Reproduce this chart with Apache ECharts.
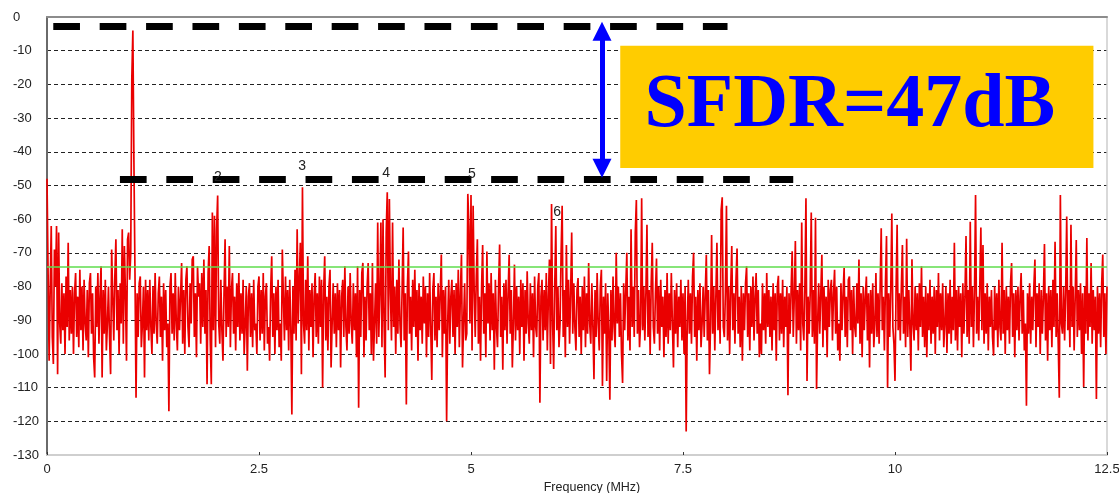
<!DOCTYPE html>
<html>
<head>
<meta charset="utf-8">
<script src="https://cdn.jsdelivr.net/npm/echarts@6/dist/echarts.min.js"></script>
<style>
html,body{margin:0;padding:0;background:#ffffff;}
#chart{width:1119px;height:493px;}
</style>
</head>
<body>
<div id="chart"></div>
<script>
// ---- data ----
const freqStepMHz = 0.0125;           // spacing of the spectrum bins
// spectrum level (dB) per bin, one array per MHz
const mhz00 = [-48,-75,-102,-81,-62,-95,-103,-69,-80,-62,
-106,-64,-91,-97,-79,-93,-82,-100,-77,-92,
-67,-96,-81,-94,-80,-100,-82,-76,-95,-83,
-98,-75,-93,-80,-99,-78,-91,-96,-81,-101,
-79,-76,-94,-82,-101,-107,-80,-92,-76,-97,
-83,-74,-107,-81,-94,-78,-99,-91,-80,-95,
-106,-69,-83,-96,-77,-66,-93,-81,-100,-79,
-91,-63,-97,-68,-82,-102,-66,-64,-78,-70];
const mhz01 = [-18.5,-4,-43,-76,-113,-82,-95,-79,-77,-98,
-91,-80,-107,-78,-93,-81,-96,-78,-92,-100,
-80,-94,-76,-91,-97,-82,-77,-95,-83,-102,
-79,-93,-81,-98,-91,-117,-80,-76,-94,-82,
-96,-76,-91,-99,-80,-93,-83,-73,-97,-81,
-100,-78,-74,-92,-98,-79,-91,-72,-71,-95,
-82,-101,-74,-83,-79,-97,-76,-92,-72,-94,
-81,-109,-76,-68,-96,-109,-58,-93,-59,-98];
const mhz02 = [-63,-53,-91,-97,-78,-93,-102,-82,-66,-95,
-80,-92,-68,-98,-81,-76,-94,-83,-99,-79,
-92,-76,-96,-82,-94,-78,-100,-91,-80,-105,
-83,-79,-95,-82,-98,-78,-93,-91,-100,-80,
-77,-96,-81,-94,-76,-99,-83,-79,-97,-92,
-102,-81,-71,-95,-82,-100,-80,-93,-78,-98,
-91,-102,-69,-83,-96,-77,-93,-81,-99,-78,
-92,-118,-80,-94,-75,-96,-63,-91,-78,-67];
const mhz03 = [-106,-50.5,-91,-97,-78,-93,-71,-99,-81,-92,
-79,-101,-83,-76,-95,-82,-97,-77,-92,-78,
-110,-81,-71,-96,-83,-99,-80,-75,-104,-91,
-79,-94,-82,-98,-79,-93,-81,-104,-83,-78,
-95,-74,-92,-99,-80,-94,-76,-91,-97,-79,
-93,-82,-101,-74,-116,-81,-95,-76,-73,-101,
-83,-96,-80,-73,-93,-82,-100,-73,-102,-91,
-79,-97,-61,-95,-82,-61,-98,-60,-91,-107];
const mhz04 = [-64,-52,-93,-54,-82,-96,-61,-92,-80,-100,
-78,-94,-72,-91,-98,-81,-62.5,-96,-82,-115,
-80,-69.6,-94,-83,-99,-78,-92,-75,-95,-81,
-102,-79,-93,-83,-97,-77,-91,-80,-101,-82,
-95,-76,-92,-107.7,-81,-76,-96,-83,-98,-79,
-93,-82,-70.5,-101,-81,-94,-80,-120,-91,-78,
-97,-83,-78,-95,-81,-100,-79,-92,-75,-98,
-82,-70.5,-104,-91,-79,-96,-94,-52.5,-62,-91];
const mhz05 = [-52.8,-99,-56,-81,-95,-77,-66,-97,-83,-102,
-80,-67.7,-94,-82,-101,-69.6,-91,-79,-96,-76,
-93,-82,-104.7,-78,-92,-98,-80,-67.5,-95,-83,
-104.7,-79,-93,-78,-97,-82,-70.6,-94,-81,-104,
-91,-73.5,-96,-80,-93,-83,-100,-78,-92,-79,
-102,-81,-94,-75.5,-91,-97,-79,-93,-82,-101,
-77,-92,-95,-80,-76,-114.5,-83,-78,-96,-81,
-93,-76,-99,-83,-72,-103,-55.5,-91,-104.5,-80];
const mhz06 = [-62,-93,-80,-98,-91,-70,-56,-95,-81,-101,
-67.7,-92,-78,-97,-82,-64,-94,-79,-92,-99,
-81,-77.5,-95,-83,-100,-80,-93,-77,-98,-82,
-94,-73,-91,-97,-79,-92,-107.5,-81,-95,-76,
-91,-99,-80,-75,-109.5,-83,-94,-79,-108,-82,
-93,-113.6,-81,-96,-77,-92,-98,-70,-91,-80,
-95,-82,-100,-108.6,-79,-93,-81,-70,-96,-83,
-99,-63,-92,-80,-95,-64,-54.3,-94,-81,-98];
const mhz07 = [-91,-53.8,-93,-80,-96,-82,-61.7,-95,-81,-100,
-79,-67,-92,-97,-82,-71.7,-94,-80,-99,-78,
-92,-83,-101,-81,-95,-76,-97,-82,-93,-76,
-91,-104,-81,-94,-79,-98,-83,-92,-78,-96,
-82,-100,-80,-123,-91,-78,-94,-82,-97,-77,
-70,-95,-83,-102,-81,-93,-79,-98,-91,-80,
-95,-82,-70.6,-96,-81,-106,-91,-64.7,-94,-80,
-99,-83,-67,-93,-81,-97,-57.3,-53.5,-92,-95];
const mhz08 = [-82,-56,-96,-80,-100,-81,-68,-93,-82,-97,
-78,-68.7,-94,-83,-98,-80,-102,-82,-93,-79,
-74,-95,-82,-99,-80,-92,-77,-96,-83,-76,
-94,-81,-101,-91,-100,-79,-93,-82,-97,-76,
-92,-81,-95,-83,-99,-79,-93,-82,-102,-80,
-76.8,-96,-82,-94,-78,-98,-83,-92,-80,-112.3,
-82,-94,-81,-69.5,-95,-83,-66.5,-97,-81,-93,
-79,-99,-61,-91,-96,-80,-53.8,-108,-83,-94];
const mhz09 = [-82,-58,-95,-81,-97,-59.6,-110.4,-91,-79,-94,
-82,-70.6,-98,-80,-93,-83,-101,-78,-92,-81,
-78,-96,-82,-75,-94,-80,-99,-91,-102,-79,
-93,-82,-74.5,-95,-83,-98,-78,-77,-93,-81,
-100,-80,-92,-95,-79,-91,-72,-97,-82,-101,
-80,-93,-83,-77,-96,-82,-104,-81,-94,-79,
-98,-91,-76,-95,-82,-97,-80,-62.7,-93,-83,
-99,-79,-65,-110,-82,-95,-81,-58.3,-92,-97];
const mhz10 = [-108,-81,-61.7,-93,-82,-96,-80,-67.7,-94,-83,
-98,-65.8,-95,-81,-92,-105,-71.9,-91,-96,-80,
-93,-82,-99,-79,-92,-74,-95,-83,-98,-80,
-101,-82,-93,-78,-97,-83,-94,-80,-100,-81,
-92,-76,-96,-82,-93,-79,-98,-91,-80,-99.7,
-82,-94,-78,-97,-83,-93,-67,-96,-81,-99,
-80,-92,-82,-101,-79,-94,-83,-65,-95,-81,
-97,-60.8,-92,-80,-98,-82,-52.8,-94,-83,-96];
const mhz11 = [-80,-62.5,-93,-67.7,-97,-82,-94,-79,-99,-83,
-92,-81,-95,-100.5,-80,-93,-82,-98,-78,-92,
-96,-67,-94,-81,-100,-80,-93,-83,-97,-79,
-73,-95,-82,-101,-81,-93,-80,-96,-83,-76,
-94,-81,-99,-91,-115.4,-82,-94,-79,-97,-83,
-93,-80,-72,-98,-82,-92,-79,-100,-81,-94,
-83,-67.4,-96,-82,-102,-80,-93,-81,-98,-78,
-92,-66.7,-95,-82,-97,-113,-52.8,-91,-94,-80];
const mhz12 = [-96,-82,-59.2,-93,-81,-98,-61.7,-92,-80,-99,
-83,-66.2,-95,-81,-93,-79,-100,-82,-109.8,-80,
-94,-65.6,-96,-82,-92,-73,-97,-81,-93,-83,
-113.4,-80,-94,-82,-98,-79,-70.5,-95,-82,-100,-80];

const thresholdDb = -74;                 // green line
const carrierLineDb = -2.8;              // upper black dashed line
const carrierLineFreq = [0.074, 8.025];
const spurLineDb = -48.3;                // lower black dashed line
const spurLineFreq = [0.86, 8.80];
const arrowFreq = 6.545;
const arrowDb = [-4.2, -44.9];
const sfdrText = 'SFDR=47dB';
const sfdrBoxFreq = [6.76, 12.34];
const sfdrBoxDb = [-8.5, -44.8];
const harmonicNames = ['2', '3', '4', '5', '6'];
const harmonicLabelFreq = [2.014, 3.01, 4.0, 5.01, 6.015];
const harmonicLabelDb = [-47.4, -44.4, -46.3, -46.6, -57.8];

// ---- build ----
const spectrumDb = [].concat(mhz00, mhz01, mhz02, mhz03, mhz04, mhz05, mhz06,
                             mhz07, mhz08, mhz09, mhz10, mhz11, mhz12);
const spectrumPoints = spectrumDb.map((v, i) => [i * freqStepMHz, v]);

const sans = '"Liberation Sans", Arial, sans-serif';
const chart = echarts.init(document.getElementById('chart'), null, {renderer: 'canvas'});

const option = {
  animation: false,
  backgroundColor: '#ffffff',
  grid: {left: 47, right: 12, top: 17, bottom: 38, outerBoundsMode: 'none', containLabel: false},
  xAxis: [{
    type: 'value', min: 0, max: 12.5, interval: 2.5, position: 'bottom',
    name: 'Frequency (MHz)', nameLocation: 'middle', nameGap: 25,
    nameTextStyle: {color: '#222', fontSize: 12.5, fontFamily: sans, padding: [0, 0, 0, 30]},
    axisLine: {show: true, onZero: false, lineStyle: {color: '#cfcfcf', width: 2}},
    axisTick: {show: true, inside: true, length: 3, lineStyle: {color: '#333'}},
    axisLabel: {color: '#222', fontSize: 13, fontFamily: sans, margin: 8},
    splitLine: {show: false}
  }, {
    type: 'value', min: 0, max: 12.5, position: 'top',
    axisLine: {show: true, onZero: false, lineStyle: {color: '#8c8c8c', width: 2}},
    axisTick: {show: false}, axisLabel: {show: false}, splitLine: {show: false}
  }],
  yAxis: [{
    type: 'value', min: -130, max: 0, interval: 10, position: 'left',
    axisLine: {show: true, onZero: false, lineStyle: {color: '#6a6a6a', width: 2}},
    axisTick: {show: false},
    axisLabel: {color: '#222', fontSize: 13, fontFamily: sans, align: 'left', margin: 34},
    splitLine: {show: true, lineStyle: {color: '#222', width: 1, type: [4, 3]}}
  }, {
    type: 'value', min: -130, max: 0, interval: 10, position: 'right',
    axisLine: {show: true, onZero: false, lineStyle: {color: '#cccccc', width: 1.5}},
    axisTick: {show: false}, axisLabel: {show: false}, splitLine: {show: false}
  }],
  series: [
    {
      type: 'line', name: 'Spectrum', data: spectrumPoints,
      symbol: 'none', showSymbol: false, silent: true, z: 2,
      lineStyle: {color: '#ea0000', width: 1.7},
      emphasis: {disabled: true}
    },
    {
      type: 'line', data: [], z: 3, silent: true,
      markLine: {
        silent: true, symbol: ['none', 'none'], label: {show: false},
        lineStyle: {color: '#5fdc4c', width: 1.5, type: 'solid'},
        data: [{yAxis: thresholdDb}]
      }
    },
    {
      type: 'line', data: [], z: 4, silent: true,
      markArea: {
        silent: true,
        itemStyle: {color: '#ffcc00'},
        label: {
          show: true, position: 'inside', color: '#0000ff',
          fontFamily: '"Liberation Serif", "Times New Roman", serif',
          fontWeight: 'bold', fontSize: 76, offset: [-7, 0]
        },
        data: [[
          {name: sfdrText, coord: [sfdrBoxFreq[0], sfdrBoxDb[0]]},
          {coord: [sfdrBoxFreq[1], sfdrBoxDb[1]]}
        ]]
      },
      markPoint: {
        silent: true, symbol: 'circle', symbolSize: 1,
        itemStyle: {color: 'rgba(0,0,0,0)'},
        label: {show: true, position: 'inside', formatter: '{b}', color: '#222',
                fontSize: 14, fontFamily: sans},
        data: harmonicNames.map((n, i) => ({name: n, coord: [harmonicLabelFreq[i], harmonicLabelDb[i]]}))
      }
    },
    {
      type: 'line', data: [], z: 6, silent: true,
      markLine: {
        silent: true, symbol: ['none', 'none'], label: {show: false},
        lineStyle: {color: '#000000', width: 7, type: [26.7, 19.7]},
        data: [
          [{coord: [carrierLineFreq[0], carrierLineDb]}, {coord: [carrierLineFreq[1], carrierLineDb]}],
          [{coord: [spurLineFreq[0], spurLineDb]}, {coord: [spurLineFreq[1], spurLineDb]}]
        ]
      }
    },
    {
      type: 'line', data: [], z: 7, silent: true,
      markLine: {
        silent: true, symbol: ['triangle', 'triangle'], symbolSize: 19, label: {show: false},
        lineStyle: {color: '#0000ff', width: 5, type: 'solid'},
        itemStyle: {color: '#0000ff'},
        data: [[{coord: [arrowFreq, arrowDb[0]]}, {coord: [arrowFreq, arrowDb[1]]}]]
      }
    }
  ]
};
chart.setOption(option);
</script>
</body>
</html>
